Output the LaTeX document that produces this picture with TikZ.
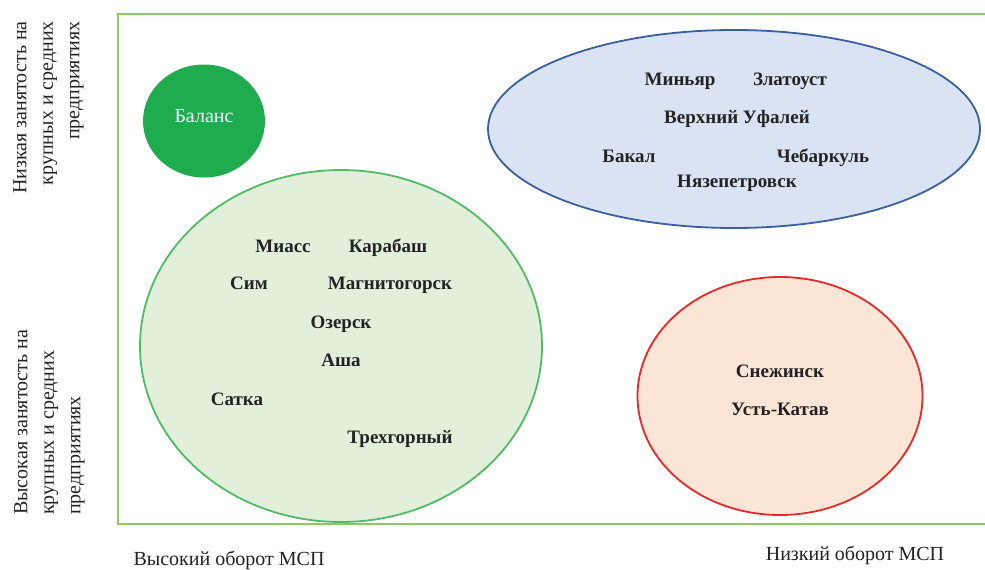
\documentclass[tikz,border=0pt]{standalone}
\usepackage{fontspec}
\setmainfont{Liberation Serif}
\usetikzlibrary{shapes.geometric}
\definecolor{framegreen}{RGB}{140,202,95}
\definecolor{balfill}{RGB}{30,172,78}
\definecolor{gfill}{RGB}{226,239,218}
\definecolor{gline}{RGB}{80,188,100}
\definecolor{bfill}{RGB}{218,227,243}
\definecolor{bline}{RGB}{58,95,160}
\definecolor{rfill}{RGB}{251,229,214}
\definecolor{rline}{RGB}{232,40,40}
\definecolor{txt}{RGB}{35,35,35}
\begin{document}
\begin{tikzpicture}[x=1pt,y=-1pt,
  city/.style={anchor=base,inner sep=0pt,text=txt,font=\fontsize{19}{26}\selectfont\bfseries},
  axislabel/.style={inner sep=0pt,text=txt,font=\fontsize{20}{26.5}\selectfont},
  blob/.style={ellipse,inner sep=0pt,line width=1.8pt}]
\useasboundingbox (0,0) rectangle (985,570);
\fill[white] (0,0) rectangle (985,570);
% frame
\coordinate (ftr) at (985,14);
\coordinate (ftl) at (118,14);
\coordinate (fbl) at (118,524);
\coordinate (fbr) at (985,524);
\draw[framegreen,line width=2.6pt] (ftr) -- (ftl) -- (fbl) -- (fbr);
% ellipses
\node[blob,draw=gline,fill=gfill,minimum width=402pt,minimum height=352pt] (green) at (341,346) {};
\node[blob,draw=bline,fill=bfill,minimum width=492pt,minimum height=198pt] (blue) at (734,129) {};
\node[blob,draw=rline,fill=rfill,minimum width=285pt,minimum height=238pt] (red) at (780,396) {};
\node[ellipse,fill=balfill,inner sep=0pt,minimum width=122pt,minimum height=113pt] (bal) at (204,121) {};
\node[anchor=base,inner sep=0pt,text=white,font=\fontsize{20}{26}\selectfont] (balt) at (204,122) {Баланс};
% blue cities
\node[city] (c1) at (680,85) {Миньяр};
\node[city] (c2) at (790,85) {Златоуст};
\node[city] (c3) at (737,123) {Верхний Уфалей};
\node[city] (c4) at (629,162) {Бакал};
\node[city] (c5) at (823,162) {Чебаркуль};
\node[city] (c6) at (737,187) {Нязепетровск};
% green cities
\node[city] (g1) at (283,252) {Миасс};
\node[city] (g2) at (388,252) {Карабаш};
\node[city] (g3) at (249,289) {Сим};
\node[city] (g4) at (390,289) {Магнитогорск};
\node[city] (g5) at (341,328) {Озерск};
\node[city] (g6) at (341,366) {Аша};
\node[city] (g7) at (237,405) {Сатка};
\node[city] (g8) at (400,443) {Трехгорный};
% red cities
\node[city] (r1) at (780,377) {Снежинск};
\node[city] (r2) at (780,415) {Усть-Катав};
% axis labels
\node[axislabel,rotate=90,anchor=north east,align=right] (ylow) at (13,21)
  {Низкая занятость на\\крупных и средних\\предприятиях};
\node[axislabel,rotate=90,anchor=north west,align=left] (yhigh) at (14,515)
  {Высокая занятость на\\крупных и средних\\предприятиях};
\node[anchor=base,inner sep=0pt,text=txt,font=\fontsize{20}{26}\selectfont] (xhigh) at (229,565) {Высокий оборот МСП};
\node[anchor=base,inner sep=0pt,text=txt,font=\fontsize{20}{26}\selectfont] (xlow) at (855,560) {Низкий оборот МСП};
\end{tikzpicture}
\end{document}
